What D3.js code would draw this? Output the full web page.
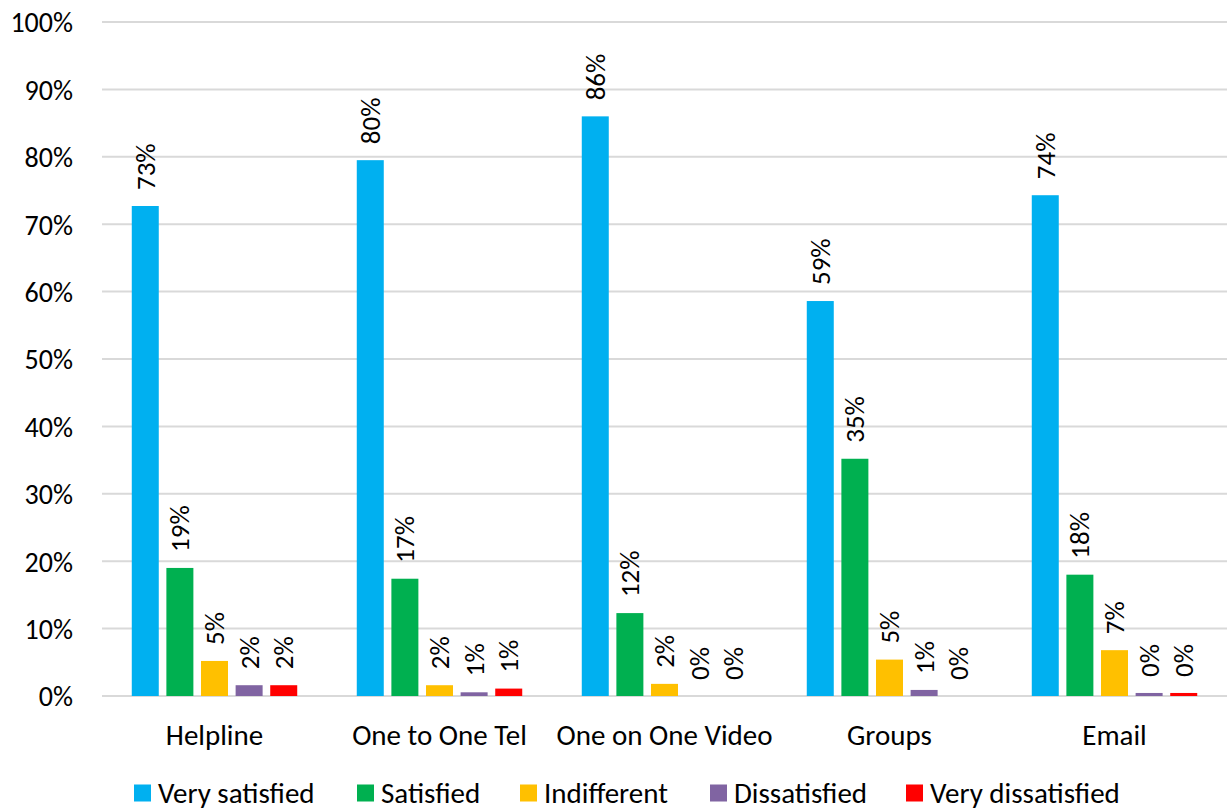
<!DOCTYPE html>
<html lang="en">
<head>
    <meta charset="UTF-8">
    <title>satisfaction</title>
    <script src="https://d3js.org/d3.v7.min.js"></script>
    <style>
        body { margin: 0; background: #fff; }
        text { font-family: Carlito, Lato, "Open Sans", sans-serif; fill: #000; }
    </style>
</head>
<body>
    <script>
        let categories = ['Helpline', 'One to One Tel', 'One on One Video', 'Groups', 'Email'];
        let seriesNames = ['Very satisfied', 'Satisfied', 'Indifferent', 'Dissatisfied', 'Very dissatisfied'];
        let colors = ['#00b0f0', '#00b050', '#ffc000', '#8064a2', '#ff0000'];
        let verySatisfied = [72.7, 79.5, 86.0, 58.6, 74.3];
        let satisfied = [19.0, 17.4, 12.3, 35.2, 18.0];
        let indifferent = [5.2, 1.6, 1.8, 5.4, 6.8];
        let dissatisfied = [1.6, 0.55, 0, 0.9, 0.45];
        let veryDissatisfied = [1.6, 1.1, 0, 0, 0.45];
        let yTicks = [0, 10, 20, 30, 40, 50, 60, 70, 80, 90, 100];

        let allSeries = [verySatisfied, satisfied, indifferent, dissatisfied, veryDissatisfied];

        let width = 1227;
        let height = 810;
        let plotLeft = 102, plotRight = 1227, plotTop = 22, plotBottom = 696;

        let svg = d3.select('body').append('svg')
            .attr('width', width)
            .attr('height', height);

        let xScale = d3.scaleBand()
            .domain(categories)
            .range([plotLeft, plotRight]);

        let inner = d3.scaleBand()
            .domain(seriesNames)
            .range([0, xScale.bandwidth()])
            .paddingOuter(0.86)
            .paddingInner(0.22);

        let yScale = d3.scaleLinear()
            .domain([0, 100])
            .range([plotBottom, plotTop]);

        // gridlines
        svg.selectAll('.grid').data(yTicks).enter().append('line')
            .attr('x1', plotLeft).attr('x2', plotRight)
            .attr('y1', d => yScale(d)).attr('y2', d => yScale(d))
            .style('stroke', '#d9d9d9')
            .style('stroke-width', 2);

        let yAxis = d3.axisLeft(yScale)
            .tickValues(yTicks)
            .tickFormat(d => d + '%')
            .tickSize(0)
            .tickPadding(29);
        let yg = svg.append('g')
            .attr('transform', `translate(${plotLeft},0)`)
            .call(yAxis);
        yg.select('.domain').remove();
        yg.selectAll('text').style('font-size', '28px').attr('dy', '0.35em');

        let xAxis = d3.axisBottom(xScale).tickSize(0).tickPadding(28);
        let xg = svg.append('g')
            .attr('transform', `translate(0,${plotBottom})`)
            .call(xAxis);
        xg.select('.domain').remove();
        xg.selectAll('text').style('font-size', '29px');

        seriesNames.forEach((name, si) => {
            let vals = allSeries[si];
            let g = svg.append('g');
            g.selectAll('rect').data(categories).enter().append('rect')
                .attr('x', (c) => xScale(c) + inner(name))
                .attr('y', (c, i) => yScale(vals[i]))
                .attr('width', inner.bandwidth())
                .attr('height', (c, i) => plotBottom - yScale(vals[i]))
                .style('fill', colors[si]);

            g.selectAll('text').data(categories).enter().append('text')
                .attr('transform', (c, i) => {
                    let cx = xScale(c) + inner(name) + inner.bandwidth() / 2;
                    let cy = yScale(vals[i]) - 16;
                    return `translate(${cx},${cy}) rotate(-90)`;
                })
                .attr('dy', '0.35em')
                .style('font-size', '27px')
                .text((c, i) => Math.round(vals[i]) + '%');
        });

        // legend
        let legendX = [134, 357, 520, 710, 906];
        let legend = svg.append('g').attr('transform', 'translate(0,793)');
        seriesNames.forEach((name, si) => {
            legend.append('rect')
                .attr('x', legendX[si]).attr('y', -8.5)
                .attr('width', 17).attr('height', 17)
                .style('fill', colors[si]);
            legend.append('text')
                .attr('x', legendX[si] + 24).attr('y', 0)
                .attr('dy', '0.35em')
                .style('font-size', '29px')
                .text(name);
        });
    </script>
</body>
</html>
